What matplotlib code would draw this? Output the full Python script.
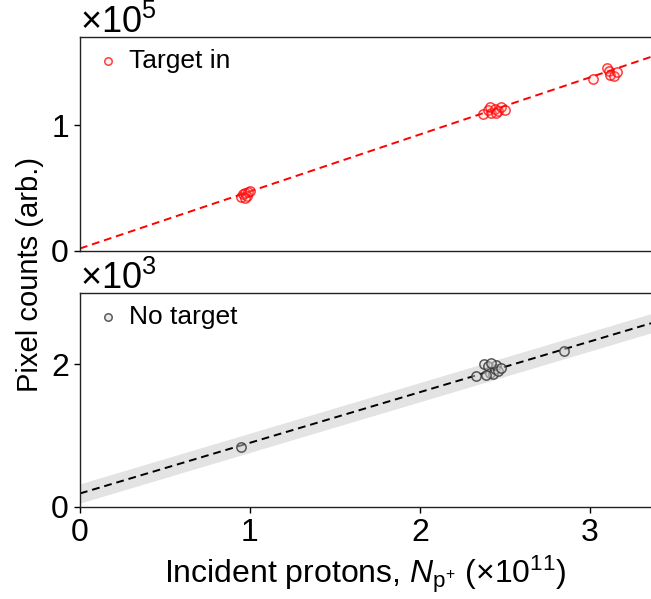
import numpy as np
import matplotlib
matplotlib.use("Agg")
import matplotlib.pyplot as plt
from matplotlib import ticker

plt.rcParams['font.family'] = ['Liberation Sans', 'DejaVu Sans']
plt.rcParams['mathtext.fontset'] = 'custom'
plt.rcParams['mathtext.rm'] = 'Liberation Sans'
plt.rcParams['mathtext.it'] = 'Liberation Sans:italic'
plt.rcParams['mathtext.bf'] = 'Liberation Sans:bold'

# ---- data (x in units of 1e11 protons) ----
target_x = [0.95, 0.96, 0.97, 0.98, 0.99, 1.00, 0.97,
            2.37, 2.40, 2.42, 2.44, 2.46, 2.48, 2.50, 2.41, 2.45,
            3.02, 3.10, 3.11, 3.12, 3.14, 3.16]
target_y = [43000, 45000, 46000, 44000, 47000, 48000, 42500,
            109000, 112000, 110000, 113000, 111000, 114000, 112000, 114000, 109500,
            136500, 145000, 143000, 140000, 139000, 142000]
target_fit = (2000, 45300)   # intercept, slope

notarget_x = [0.95, 2.33, 2.38, 2.40, 2.41, 2.43, 2.44, 2.45, 2.46, 2.48, 2.42, 2.39, 2.85]
notarget_y = [840, 1840, 2010, 1970, 1880, 1860, 1930, 1990, 1900, 1950, 2020, 1850, 2190]
notarget_fit = (190, 710)
notarget_band = 135

xmax = 3.36

fig = plt.figure(figsize=(6.51, 5.99), dpi=100)
ax1 = fig.add_axes([80/651, 1-251/599, 571/651, 214/599])
ax2 = fig.add_axes([80/651, 1-507/599, 571/651, 214/599])

xx = np.linspace(0, xmax, 100)

ax1.plot(xx, target_fit[0] + target_fit[1]*xx, ls='--', color='red', lw=1.4, dashes=(4, 2.5), zorder=2)
ax1.scatter(target_x, target_y, s=45, facecolors=(1, 0.6, 0.6, 0.15), edgecolors=(1, 0, 0, 0.75),
            linewidths=1.1, zorder=3, label='Target in')
ax1.set_ylim(0, 170000)
ax1.set_yticks([0, 100000])

line2 = notarget_fit[0] + notarget_fit[1]*xx
ax2.fill_between(xx, line2 - notarget_band, line2 + notarget_band, color='#e3e3e3', lw=0, zorder=1)
ax2.plot(xx, line2, ls='--', color='black', lw=1.4, dashes=(4, 2.5), zorder=2)
ax2.scatter(notarget_x, notarget_y, s=45, facecolors=(0.85, 0.85, 0.85, 0.5), edgecolors=(0.2, 0.2, 0.2, 0.8),
            linewidths=1.1, zorder=3, label='No target')
ax2.set_ylim(0, 3000)
ax2.set_yticks([0, 2000])

for ax in (ax1, ax2):
    ax.set_xlim(0, xmax)
    ax.set_xticks([0, 1, 2, 3])
    ax.spines['right'].set_visible(False)
    for s in ax.spines.values():
        s.set_linewidth(1.0)
        s.set_color('#222222')
    ax.tick_params(axis='both', direction='out', length=4, width=1, labelsize=23, pad=4)
    fmt = ticker.ScalarFormatter(useMathText=True)
    fmt.set_powerlimits((0, 0))
    ax.yaxis.set_major_formatter(fmt)
    ax.yaxis.get_offset_text().set_fontsize(26)
    leg = ax.legend(loc='upper left', frameon=False, fontsize=19, handletextpad=0.2,
                    borderaxespad=0.05, markerscale=0.8, handlelength=1.2)

ax1.tick_params(axis='x', labelbottom=False, length=0)

ax2.set_xlabel(r'Incident protons, $N_{\mathrm{p^{+}}}$ ($\times10^{11}$)', fontsize=23, labelpad=4)
fig.text(30/651, 1-275/599, 'Pixel counts (arb.)', rotation=90, fontsize=21, ha='center', va='center')

fig.savefig('out.png', dpi=100)
